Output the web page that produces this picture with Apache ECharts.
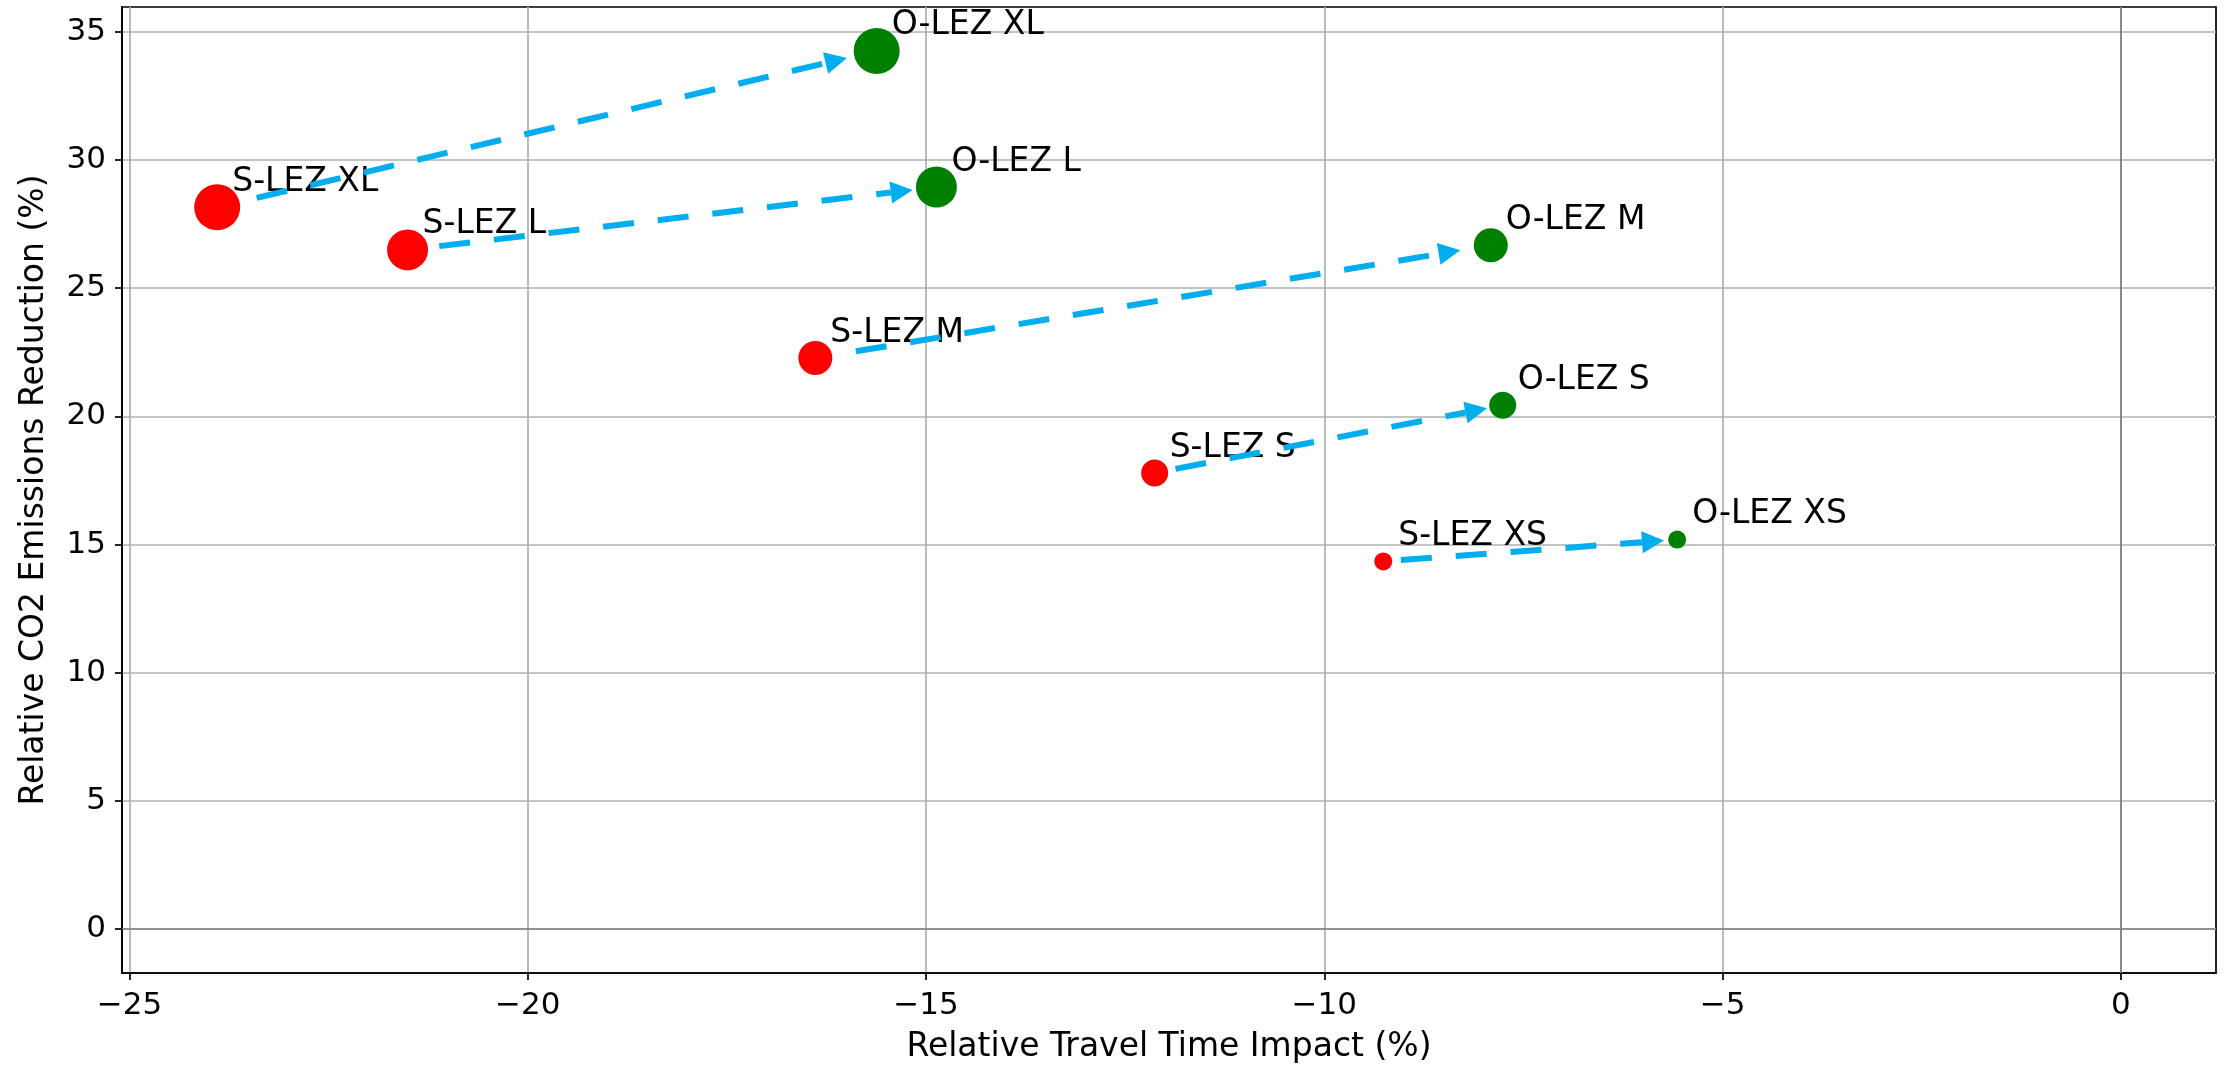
<!DOCTYPE html>
<html><head><meta charset="utf-8">
<script src="https://cdn.jsdelivr.net/npm/echarts@6/dist/echarts.min.js"></script>
<style>html,body{margin:0;padding:0;background:#fff}#c{width:2231px;height:1065px}</style>
</head><body><div id="c"></div>
<script>
// ---- data ----
const zoneSizes = ['XL', 'L', 'M', 'S', 'XS'];
const sLezTravel = [-23.90, -21.51, -16.39, -12.13, -9.26];
const sLezCO2    = [28.15, 26.49, 22.27, 17.79, 14.34];
const oLezTravel = [-15.62, -14.87, -7.91, -7.76, -5.57];
const oLezCO2    = [34.25, 28.94, 26.67, 20.43, 15.19];
const xTickValues = [-25, -20, -15, -10, -5, 0];
const yTickValues = [0, 5, 10, 15, 20, 25, 30, 35];

// ---- styles ----
const FONT = 'DejaVu Sans';
const markerDiameter = { XL: 46, L: 41, M: 34, S: 27, XS: 18 };
const ARROW = '#00AEEF';

// matplotlib-like 5% margins around data (incl. zero lines)
function padExtent(vals) {
  const lo = Math.min(...vals), hi = Math.max(...vals);
  const m = (hi - lo) * 0.05;
  return [lo - m, hi + m];
}
const xExt = padExtent([...sLezTravel, ...oLezTravel, 0]);
const yExt = padExtent([...sLezCO2, ...oLezCO2, 0]);

const fmt = v => (v < 0 ? '\u2212' + (-v) : String(v));

function pointSeries(name, xs, ys, color) {
  return {
    type: 'scatter', name, z: 3,
    data: xs.map((x, i) => ({
      value: [x, ys[i]],
      name: name + ' ' + zoneSizes[i],
      symbolSize: markerDiameter[zoneSizes[i]]
    })),
    itemStyle: { color, opacity: 1 },
    label: {
      show: true, formatter: '{b}', position: 'inside', align: 'left', verticalAlign: 'middle',
      offset: [15, -25], fontSize: 33, fontFamily: FONT, color: '#000', textBorderWidth: 0
    },
    emphasis: { disabled: true },
    silent: true
  };
}

const chart = echarts.init(document.getElementById('c'), null, { renderer: 'canvas' });
chart.setOption({
  animation: false,
  backgroundColor: '#fff',
  textStyle: { fontFamily: FONT },
  grid: { left: 122, right: 15, top: 7, bottom: 92, show: true, borderColor: '#000', borderWidth: 1.7, outerBoundsMode: 'none', containLabel: false },
  xAxis: {
    type: 'value', min: xExt[0], max: xExt[1],
    name: 'Relative Travel Time Impact (%)', nameLocation: 'middle', nameGap: 58,
    nameTextStyle: { fontSize: 33, color: '#000', fontFamily: FONT },
    axisLine: { show: true, onZero: false, lineStyle: { color: '#000', width: 1.7 } },
    axisTick: { show: true, customValues: xTickValues, length: 7, lineStyle: { color: '#000', width: 1.7 } },
    axisLabel: { customValues: xTickValues, formatter: fmt, fontSize: 31, color: '#000', margin: 17, fontFamily: FONT },
    splitLine: { show: true, lineStyle: { color: '#b0b0b0', width: 1.7 } }
  },
  yAxis: {
    type: 'value', min: yExt[0], max: yExt[1],
    name: 'Relative CO2 Emissions Reduction (%)', nameLocation: 'middle', nameGap: 71,
    nameTextStyle: { fontSize: 33, color: '#000', fontFamily: FONT },
    axisLine: { show: true, onZero: false, lineStyle: { color: '#000', width: 1.7 } },
    axisTick: { show: true, customValues: yTickValues, length: 7, lineStyle: { color: '#000', width: 1.7 } },
    axisLabel: { customValues: yTickValues, formatter: fmt, fontSize: 31, color: '#000', margin: 16, fontFamily: FONT },
    splitLine: { show: true, lineStyle: { color: '#b0b0b0', width: 1.7 } }
  },
  series: [
    {
      type: 'line', data: [], z: 1, silent: true,
      markLine: {
        silent: true, symbol: 'none', animation: false,
        label: { show: false },
        lineStyle: { color: '#808080', width: 1.7, type: 'solid' },
        data: [{ xAxis: 0 }, { yAxis: 0 }]
      }
    },
    pointSeries('S-LEZ', sLezTravel, sLezCO2, '#ff0000'),
    pointSeries('O-LEZ', oLezTravel, oLezCO2, '#008000'),
    {
      type: 'custom', z: 10, silent: true, clip: false,
      encode: { x: [0, 2], y: [1, 3] },
      data: sLezTravel.map((x, i) => [x, sLezCO2[i], oLezTravel[i], oLezCO2[i]]),
      renderItem(params, api) {
        const p1 = api.coord([api.value(0), api.value(1)]);
        const p2 = api.coord([api.value(2), api.value(3)]);
        const dx = p2[0] - p1[0], dy = p2[1] - p1[1];
        const len = Math.hypot(dx, dy), ux = dx / len, uy = dy / len;
        const s = [p1[0] + dx * 0.06, p1[1] + dy * 0.06];
        const tip = [p1[0] + dx * 0.955, p1[1] + dy * 0.955];
        const headL = 22, headW = 11;
        const base = [tip[0] - ux * headL, tip[1] - uy * headL];
        return {
          type: 'group', children: [
            { type: 'line', shape: { x1: s[0], y1: s[1], x2: base[0], y2: base[1] },
              style: { stroke: ARROW, lineWidth: 6, lineDash: [31, 24], fill: null } },
            { type: 'polygon', shape: { points: [tip, [base[0] - uy * headW, base[1] + ux * headW], [base[0] + uy * headW, base[1] - ux * headW]] },
              style: { fill: ARROW } }
          ]
        };
      }
    }
  ]
});
</script>
</body></html>
